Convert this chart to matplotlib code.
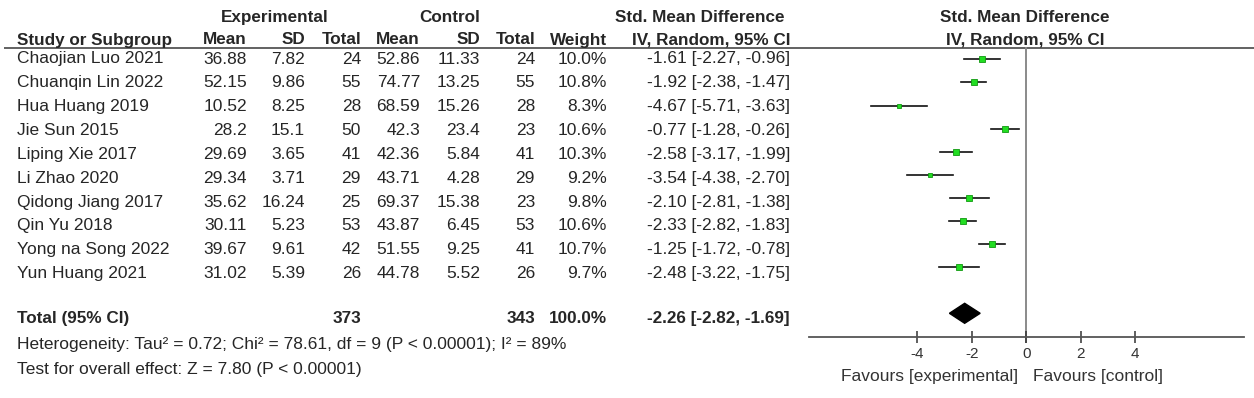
import matplotlib
matplotlib.use("Agg")
import matplotlib.pyplot as plt

plt.rcParams['font.family'] = ['Liberation Sans', 'DejaVu Sans']

studies = ["Chaojian Luo 2021", "Chuanqin Lin 2022", "Hua Huang 2019", "Jie Sun 2015",
           "Liping Xie 2017", "Li Zhao 2020", "Qidong Jiang 2017", "Qin Yu 2018",
           "Yong na Song 2022", "Yun Huang 2021"]
exp_mean = [36.88, 52.15, 10.52, 28.2, 29.69, 29.34, 35.62, 30.11, 39.67, 31.02]
exp_sd = [7.82, 9.86, 8.25, 15.1, 3.65, 3.71, 16.24, 5.23, 9.61, 5.39]
exp_n = [24, 55, 28, 50, 41, 29, 25, 53, 42, 26]
ctl_mean = [52.86, 74.77, 68.59, 42.3, 42.36, 43.71, 69.37, 43.87, 51.55, 44.78]
ctl_sd = [11.33, 13.25, 15.26, 23.4, 5.84, 4.28, 15.38, 6.45, 9.25, 5.52]
ctl_n = [24, 55, 28, 23, 41, 29, 23, 53, 41, 26]
weight = [10.0, 10.8, 8.3, 10.6, 10.3, 9.2, 9.8, 10.6, 10.7, 9.7]
smd = [-1.61, -1.92, -4.67, -0.77, -2.58, -3.54, -2.10, -2.33, -1.25, -2.48]
ci_lo = [-2.27, -2.38, -5.71, -1.28, -3.17, -4.38, -2.81, -2.82, -1.72, -3.22]
ci_hi = [-0.96, -1.47, -3.63, -0.26, -1.99, -2.70, -1.38, -1.83, -0.78, -1.75]
total_exp_n = 373
total_ctl_n = 343
total_weight = 100.0
total_smd, total_lo, total_hi = -2.26, -2.82, -1.69
heterogeneity = "Heterogeneity: Tau² = 0.72; Chi² = 78.61, df = 9 (P < 0.00001); I² = 89%"
overall = "Test for overall effect: Z = 7.80 (P < 0.00001)"
xticks = [-4, -2, 0, 2, 4]

W, H = 1254, 398
fig = plt.figure(figsize=(W / 100, H / 100), dpi=100)
fig.patch.set_facecolor('white')

# text table axes in pixel coordinates
ax_t = fig.add_axes([0, 0, 1, 1])
ax_t.set_xlim(0, W)
ax_t.set_ylim(H, 0)
ax_t.axis('off')

TXT = '#262626'
FS = 12.5
FSB = 12.3

# headers
ax_t.text(274.5, 21.7, "Experimental", ha='center', va='baseline', fontsize=FSB, fontweight='bold', color=TXT)
ax_t.text(449.5, 21.7, "Control", ha='center', va='baseline', fontsize=FSB, fontweight='bold', color=TXT)
ax_t.text(700, 21.7, "Std. Mean Difference", ha='center', va='baseline', fontsize=FSB, fontweight='bold', color=TXT)
ax_t.text(1025, 21.7, "Std. Mean Difference", ha='center', va='baseline', fontsize=FSB, fontweight='bold', color=TXT)
ax_t.text(1025, 44.5, "IV, Random, 95% CI", ha='center', va='baseline', fontsize=FSB, fontweight='bold', color=TXT)

cols_right = [247, 305, 361, 420, 480, 535, 607, 790]
hdr2 = ["Mean", "SD", "Total", "Mean", "SD", "Total", "Weight", "IV, Random, 95% CI"]
ax_t.text(17, 44.5, "Study or Subgroup", ha='left', va='baseline', fontsize=FSB, fontweight='bold', color=TXT)
for x, h in zip(cols_right, hdr2):
    ax_t.text(x, 44.5, h, ha='right', va='baseline', fontsize=FSB, fontweight='bold', color=TXT)

ax_t.plot([4, W], [47.5, 47.5], color='#555555', lw=1.3, solid_capstyle='butt')

# study rows
for i, name in enumerate(studies):
    yb = 63.5 + i * 23.85
    vals = [str(exp_mean[i]), str(exp_sd[i]), str(exp_n[i]),
            str(ctl_mean[i]), str(ctl_sd[i]), str(ctl_n[i]),
            f"{weight[i]:.1f}%", f"{smd[i]:.2f} [{ci_lo[i]:.2f}, {ci_hi[i]:.2f}]"]
    ax_t.text(17, yb, name, ha='left', va='baseline', fontsize=FS, color=TXT)
    for x, v in zip(cols_right, vals):
        ax_t.text(x, yb, v, ha='right', va='baseline', fontsize=FS, color=TXT)

# total row
yt = 323.3
ax_t.text(17, yt, "Total (95% CI)", ha='left', va='baseline', fontsize=FSB, fontweight='bold', color=TXT)
ax_t.text(361, yt, str(total_exp_n), ha='right', va='baseline', fontsize=FSB, fontweight='bold', color=TXT)
ax_t.text(535, yt, str(total_ctl_n), ha='right', va='baseline', fontsize=FSB, fontweight='bold', color=TXT)
ax_t.text(607, yt, f"{total_weight:.1f}%", ha='right', va='baseline', fontsize=FSB, fontweight='bold', color=TXT)
ax_t.text(790, yt, f"{total_smd:.2f} [{total_lo:.2f}, {total_hi:.2f}]", ha='right', va='baseline',
          fontsize=FSB, fontweight='bold', color=TXT)
ax_t.text(17, 349.3, heterogeneity, ha='left', va='baseline', fontsize=FS, color=TXT)
ax_t.text(17, 374, overall, ha='left', va='baseline', fontsize=FS, color=TXT)

# forest axes
x0, x1 = 808.5, 1243.8
ax_f = fig.add_axes([x0 / W, 0, (x1 - x0) / W, 1])
ax_f.set_xlim(-8, 8)
ax_f.set_ylim(H, 0)
ax_f.patch.set_alpha(0)
for s in ['top', 'left', 'right']:
    ax_f.spines[s].set_visible(False)
ax_f.spines['bottom'].set_position(('data', 337))
ax_f.spines['bottom'].set_color('#555555')
ax_f.spines['bottom'].set_linewidth(1.3)
ax_f.set_yticks([])
ax_f.set_xticks(xticks)
ax_f.set_xticklabels([str(t) for t in xticks])
ax_f.tick_params(axis='x', direction='inout', length=9, width=1.1, color='#333333',
                 labelsize=11, labelcolor='#333333', pad=3)

# zero line
ax_f.plot([0, 0], [47.5, 342], color='#8a8a8a', lw=1.4, zorder=1)

for i in range(len(studies)):
    ym = 59.3 + i * 23.1
    ax_f.plot([ci_lo[i], ci_hi[i]], [ym, ym], color='#111111', lw=1.2, zorder=2)
    side_px = max(weight[i] - 5.5, 2.5)
    ax_f.plot(smd[i], ym, marker='s', markersize=side_px / 1.389 + 0.8,
              markerfacecolor='#22dd22', markeredgecolor='#119911', markeredgewidth=0.6, zorder=3)

# diamond
yd = 313.3
ax_f.fill([total_lo, total_smd, total_hi, total_smd], [yd, yd - 10, yd, yd + 10],
          color='black', zorder=3)

ax_f.text(-0.3, 381, "Favours [experimental]", ha='right', va='baseline', fontsize=12.5, color='#333333')
ax_f.text(0.25, 381, "Favours [control]", ha='left', va='baseline', fontsize=12.5, color='#333333')

fig.savefig("out.png", dpi=100, facecolor='white')
